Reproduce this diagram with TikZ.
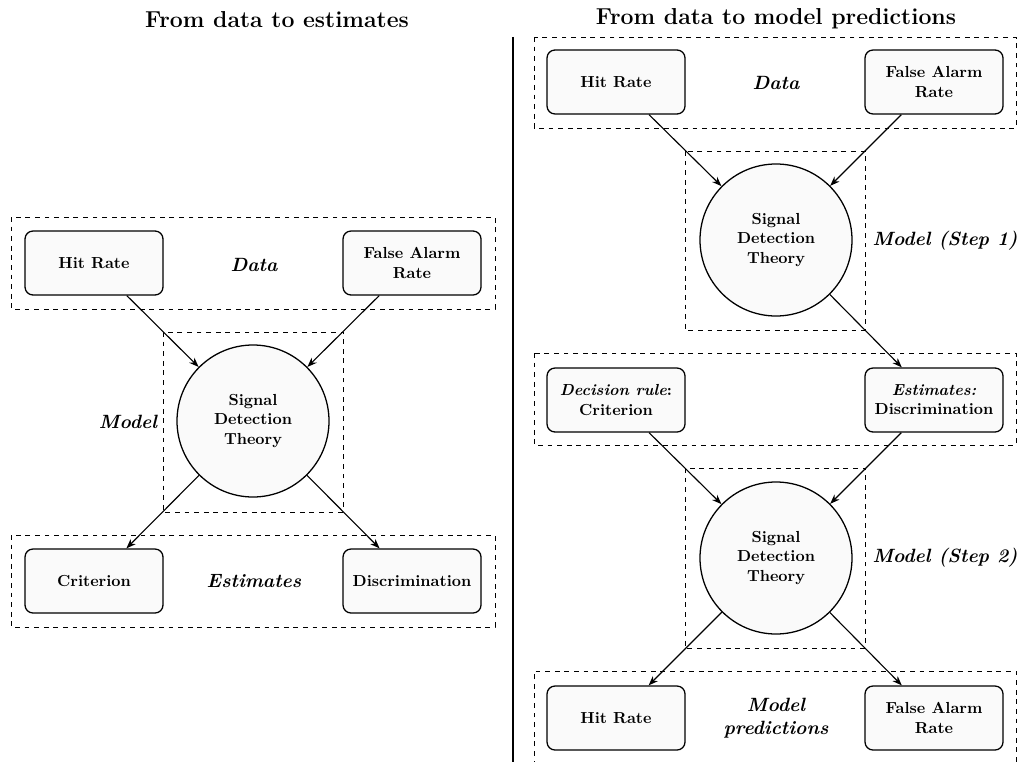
\documentclass[tikz,border=0pt]{standalone}
\usetikzlibrary{arrows.meta}
\begin{document}
\begin{tikzpicture}[x=0.625pt,y=-0.625pt,
  box/.style={draw,line width=0.8pt,rounded corners=5pt,fill=black!2,
    minimum width=86.25pt,minimum height=40pt,align=center,font=\bfseries},
  sdt/.style={draw,line width=0.8pt,circle,fill=black!2,minimum size=95pt,
    inner sep=0pt,align=center,font=\bfseries},
  group/.style={draw,dashed,line width=0.5pt},
  lab/.style={font=\large\bfseries\itshape,align=center},
  title/.style={font=\Large\bfseries},
  arr/.style={-{Stealth[length=6pt,width=4.5pt]},line width=0.7pt}]
\useasboundingbox (0,0) rectangle (1021,762);
% titles
\node[title] (t1) at (277,20) {From data to estimates};
\node[title] (t2) at (776,19) {From data to model predictions};
\coordinate (divtop) at (513,37);
\coordinate (divbot) at (513,762);
\draw[line width=0.8pt] (divtop) -- (divbot);
% ---- left panel ----
\draw[group] (11,217) rectangle (495,309);
\draw[group] (163,332) rectangle (343,512);
\draw[group] (11,535) rectangle (495,627);
\node[box] (lhit) at (94,263) {Hit Rate};
\node[box] (lfa) at (412,263) {False Alarm\\Rate};
\node[lab] (ldata) at (254,265) {Data};
\node[sdt] (lsdt) at (253,421) {Signal\\Detection\\Theory};
\node[lab] (lmodel) at (128,422) {Model};
\node[box] (lcrit) at (94,581) {Criterion};
\node[box] (ldisc) at (412,581) {Discrimination};
\node[lab] (lest) at (254,581) {Estimates};
\draw[arr] (lhit) -- (lsdt);
\draw[arr] (lfa) -- (lsdt);
\draw[arr] (lsdt) -- (lcrit);
\draw[arr] (lsdt) -- (ldisc);
% ---- right panel ----
\draw[group] (534,37) rectangle (1016,128);
\draw[group] (685,151) rectangle (865,330);
\draw[group] (534,353) rectangle (1016,445);
\draw[group] (685,468) rectangle (865,648);
\draw[group] (534,775) -- (534,671) -- (1016,671) -- (1016,775);
\node[box] (rhit) at (616,82) {Hit Rate};
\node[box] (rfa) at (934,82) {False Alarm\\Rate};
\node[lab] (rdata) at (776,83) {Data};
\node[sdt] (rsdt1) at (776,240) {Signal\\Detection\\Theory};
\node[lab] (rm1) at (945,241) {Model (Step 1)};
\node[box] (rcrit) at (616,400) {{\itshape Decision rule\/}:\\Criterion};
\node[box] (rdisc) at (934,400) {{\itshape Estimates:}\\Discrimination};
\node[sdt] (rsdt2) at (776,558) {Signal\\Detection\\Theory};
\node[lab] (rm2) at (945,558) {Model (Step 2)};
\node[box] (rhit2) at (616,718) {Hit Rate};
\node[box] (rfa2) at (934,718) {False Alarm\\Rate};
\node[lab] (rpred) at (776,718) {Model\\predictions};
\draw[arr] (rhit) -- (rsdt1);
\draw[arr] (rfa) -- (rsdt1);
\draw[arr] (rsdt1) -- (rdisc);
\draw[arr] (rcrit) -- (rsdt2);
\draw[arr] (rdisc) -- (rsdt2);
\draw[arr] (rsdt2) -- (rhit2);
\draw[arr] (rsdt2) -- (rfa2);
\end{tikzpicture}
\end{document}
